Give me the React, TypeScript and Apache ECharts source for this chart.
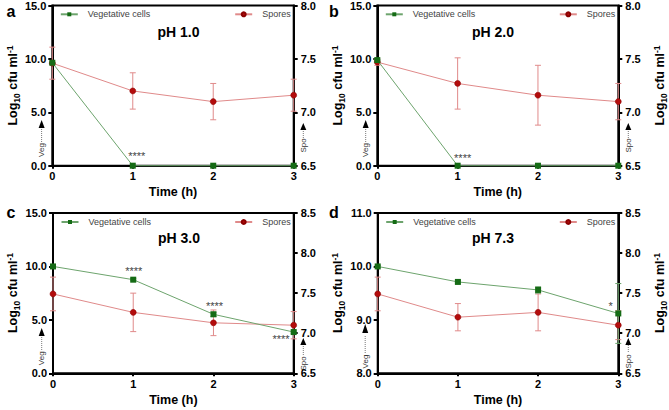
import React, { useEffect, useRef } from 'react';
import * as echarts from 'echarts';

// ---------- data ----------
const hours = [0, 1, 2, 3];
const titles = ['pH 1.0', 'pH 2.0', 'pH 3.0', 'pH 7.3'];
const letters = ['a', 'b', 'c', 'd'];

const vegA = [9.64, 0, 0, 0];
const vegAErr = [0.05, 0, 0, 0];
const spoA = [7.46, 7.2, 7.1, 7.16];
const spoAErr = [0.15, 0.17, 0.17, 0.15];

const vegB = [9.89, 0, 0, 0];
const vegBErr = [0.05, 0, 0, 0];
const spoB = [7.47, 7.27, 7.16, 7.1];
const spoBErr = [0.03, 0.24, 0.28, 0.17];

const vegC = [10.0, 8.76, 5.52, 3.86];
const vegCErr = [0.05, 0.1, 0.2, 0.1];
const spoC = [7.49, 7.26, 7.13, 7.1];
const spoCErr = [0.21, 0.24, 0.16, 0.17];

const vegD = [10.0, 9.71, 9.56, 9.12];
const vegDErr = [0.02, 0.02, 0.06, 0.56];
const spoD = [7.49, 7.2, 7.26, 7.1];
const spoDErr = [0.21, 0.17, 0.23, 0.18];

const vegSets = [vegA, vegB, vegC, vegD];
const vegErrSets = [vegAErr, vegBErr, vegCErr, vegDErr];
const spoSets = [spoA, spoB, spoC, spoD];
const spoErrSets = [spoAErr, spoBErr, spoCErr, spoDErr];

const leftMin = [0, 0, 0, 8];
const leftMax = [15, 15, 15, 11];
const leftInterval = [5, 5, 5, 1];
const rightMin = [6.5, 6.5, 6.5, 6.5];
const rightMax = [8, 8, 8.5, 8.5];
const rightInterval = [0.5, 0.5, 0.5, 0.5];

// significance marks: [panel, hour, value on left axis, text]
const sigPanel = [0, 1, 2, 2, 2, 3];
const sigHour = [1, 1, 1, 2, 3, 3];
const sigValue = [0, 0, 8.76, 5.52, 3.86, 9.12];
const sigText = ['****', '****', '****', '****', '****', '*'];

// ---------- layout ----------
const grids = [
  { left: 52.3, top: 5.3, width: 241.4, height: 160.4 },
  { left: 377.3, top: 5.3, width: 241.0, height: 160.4 },
  { left: 53.0, top: 213, width: 240.7, height: 160.3 },
  { left: 377.7, top: 213, width: 240.6, height: 160.3 },
];
const sigDx = [4, 5, 0.5, 1, -12.7, -7.6];
const sigDy = [-10, -8.2, -8.2, -8.1, 6.5, -7.5];
const titlePos = [[178.5, 31.7], [493, 31.7], [179, 238.3], [493, 238.3]];
const letterPos = [[11, 11], [334, 11], [11, 212], [334, 212]];
const vegInd = [
  { x: 41.6, tc: 150, l1: 142, l2: 128, t1: 128, t2: 120 },
  { x: 365.7, tc: 150, l1: 142, l2: 128, t1: 128, t2: 120 },
  { x: 41.7, tc: 358.3, l1: 350, l2: 337, t1: 336, t2: 328 },
  { x: 365.2, tc: 361.5, l1: 353, l2: 335, t1: 333, t2: 324 },
];
const spoInd = [
  { x: 303.3, tc: 145.5, l1: 138, l2: 130, t1: 130, t2: 123 },
  { x: 628.3, tc: 145.5, l1: 138, l2: 130, t1: 130, t2: 123 },
  { x: 303.3, tc: 363.5, l1: 355, l2: 345, t1: 345, t2: 338 },
  { x: 628.3, tc: 361.5, l1: 352, l2: 345, t1: 345, t2: 338 },
];

const FONT = '"Liberation Sans", Arial, Helvetica, sans-serif';
const GREEN = '#156b15';
const GREEN_LINE = '#6da46d';
const RED = '#b30c0c';
const RED_LINE = '#e08a8a';

function errRender(color: string) {
  return (params: any, api: any) => {
    const x = api.value(0);
    const y = api.value(1);
    const e = api.value(2);
    if (!(e > 0)) return null;
    const hi = api.coord([x, y + e]);
    const lo = api.coord([x, y - e]);
    const w = 3;
    const st = { stroke: color, lineWidth: 1 };
    return {
      type: 'group',
      children: [
        { type: 'line', shape: { x1: hi[0], y1: hi[1], x2: lo[0], y2: lo[1] }, style: st },
        { type: 'line', shape: { x1: hi[0] - w, y1: hi[1], x2: hi[0] + w, y2: hi[1] }, style: st },
        { type: 'line', shape: { x1: lo[0] - w, y1: lo[1], x2: lo[0] + w, y2: lo[1] }, style: st },
      ],
    };
  };
}

const axisNameRich = {
  m: { fontSize: 12.5, fontWeight: 'bold', fontFamily: FONT, fill: '#000', lineHeight: 16 },
  s: { fontSize: 8.5, fontWeight: 'bold', fontFamily: FONT, fill: '#000', lineHeight: 9, verticalAlign: 'bottom' },
  p: { fontSize: 8.5, fontWeight: 'bold', fontFamily: FONT, fill: '#000', lineHeight: 9, verticalAlign: 'top' },
};
const axisNameText = '{m|Log}{s|10}{m| cfu ml}{p|-1}';

function axisName(x: number, y: number) {
  return {
    type: 'text',
    x,
    y,
    rotation: Math.PI / 2,
    style: {
      text: axisNameText,
      rich: axisNameRich,
      align: 'center',
      verticalAlign: 'middle',
      textAlign: 'center',
      textVerticalAlign: 'middle',
    },
  };
}

function indicator(ind: any, label: string) {
  return [
    {
      type: 'text',
      x: ind.x,
      y: ind.tc,
      rotation: Math.PI / 2,
      style: {
        text: label,
        font: `8px ${FONT}`,
        fill: '#333',
        align: 'center',
        verticalAlign: 'middle',
        textAlign: 'center',
        textVerticalAlign: 'middle',
      },
    },
    {
      type: 'line',
      shape: { x1: ind.x, y1: ind.l1, x2: ind.x, y2: ind.l2 },
      style: { stroke: '#555', lineWidth: 0.8, lineDash: [1, 1] },
    },
    {
      type: 'polygon',
      shape: { points: [[ind.x - 3, ind.t1], [ind.x + 3, ind.t1], [ind.x, ind.t2]] },
      style: { fill: '#000' },
    },
  ];
}

function buildOption() {
  const xAxis: any[] = [];
  const yAxis: any[] = [];
  const series: any[] = [];
  const legend: any[] = [];
  const graphic: any[] = [];

  grids.forEach((g, i) => {
    xAxis.push({
      gridIndex: i,
      type: 'value',
      min: 0,
      max: 3,
      interval: 1,
      name: 'Time (h)',
      nameLocation: 'middle',
      nameGap: 20,
      nameTextStyle: { fontFamily: FONT, fontWeight: 'bold', fontSize: 12.5, color: '#000' },
      axisLine: { show: true, onZero: false, lineStyle: { color: '#000', width: 2 } },
      axisTick: { show: true, length: 3, lineStyle: { color: '#000', width: 2 } },
      axisLabel: { fontFamily: FONT, fontWeight: 'bold', fontSize: 11, color: '#000', margin: 5 },
      splitLine: { show: false },
    });
    yAxis.push({
      gridIndex: i,
      type: 'value',
      position: 'left',
      min: leftMin[i],
      max: leftMax[i],
      interval: leftInterval[i],
      axisLine: { show: true, onZero: false, lineStyle: { color: '#000', width: 2 } },
      axisTick: { show: true, length: 4, lineStyle: { color: '#000', width: 2 } },
      axisLabel: {
        fontFamily: FONT,
        fontWeight: 'bold',
        fontSize: 11,
        color: '#000',
        margin: 6,
        formatter: (v: number) => v.toFixed(1),
      },
      splitLine: { show: false },
    });
    yAxis.push({
      gridIndex: i,
      type: 'value',
      position: 'right',
      min: rightMin[i],
      max: rightMax[i],
      interval: rightInterval[i],
      axisLine: { show: true, onZero: false, lineStyle: { color: '#000', width: 2 } },
      axisTick: { show: true, length: 4, lineStyle: { color: '#000', width: 2 } },
      axisLabel: {
        fontFamily: FONT,
        fontWeight: 'bold',
        fontSize: 11,
        color: '#000',
        margin: 7,
        formatter: (v: number) => v.toFixed(1),
      },
      splitLine: { show: false },
    });

    const veg = vegSets[i];
    const spo = spoSets[i];
    series.push({
      type: 'custom',
      xAxisIndex: i,
      yAxisIndex: 2 * i + 1,
      renderItem: errRender(RED_LINE),
      data: hours.map((h, j) => [h, spo[j], spoErrSets[i][j]]),
      encode: { x: 0, y: 1 },
      z: 1,
      silent: true,
    });
    series.push({
      type: 'custom',
      xAxisIndex: i,
      yAxisIndex: 2 * i,
      renderItem: errRender(GREEN_LINE),
      data: hours.map((h, j) => [h, veg[j], vegErrSets[i][j]]),
      encode: { x: 0, y: 1 },
      z: 1,
      silent: true,
    });
    series.push({
      name: 'Spores',
      type: 'line',
      xAxisIndex: i,
      yAxisIndex: 2 * i + 1,
      data: hours.map((h, j) => [h, spo[j]]),
      symbol: 'circle',
      symbolSize: 6,
      clip: false,
      itemStyle: { color: RED, borderColor: '#8a0000', borderWidth: 0.5 },
      lineStyle: { color: RED_LINE, width: 1 },
      z: 2,
    });
    series.push({
      name: 'Vegetative cells',
      type: 'line',
      xAxisIndex: i,
      yAxisIndex: 2 * i,
      data: hours.map((h, j) => [h, veg[j]]),
      symbol: 'rect',
      symbolSize: 6,
      clip: false,
      itemStyle: { color: GREEN },
      lineStyle: { color: GREEN_LINE, width: 1 },
      z: 3,
    });

    legend.push({
      left: g.left + 7.5,
      top: g.top + 4.5,
      padding: 0,
      itemWidth: 17,
      itemHeight: 5,
      data: ['Vegetative cells'],
      textStyle: { fontFamily: FONT, fontSize: 9, color: '#444', padding: [0, 0, 0, 5] },
    });
    legend.push({
      left: g.left + g.width - 59.5,
      top: g.top + 4.5,
      padding: 0,
      itemWidth: 17,
      itemHeight: 5,
      data: ['Spores'],
      textStyle: { fontFamily: FONT, fontSize: 9, color: '#444', padding: [0, 0, 0, 5] },
    });

    graphic.push({
      type: 'text',
      x: titlePos[i][0],
      y: titlePos[i][1],
      style: {
        text: titles[i],
        font: `bold 14px ${FONT}`,
        fill: '#000',
        align: 'center',
        verticalAlign: 'middle',
        textAlign: 'center',
        textVerticalAlign: 'middle',
      },
    });
    graphic.push({
      type: 'text',
      x: letterPos[i][0],
      y: letterPos[i][1],
      style: {
        text: letters[i],
        font: `bold 16px ${FONT}`,
        fill: '#000',
        align: 'center',
        verticalAlign: 'middle',
        textAlign: 'center',
        textVerticalAlign: 'middle',
      },
    });
    graphic.push(...indicator(vegInd[i], 'Veg'));
    graphic.push(...indicator(spoInd[i], 'Spo'));
  });

  // left axis names
  graphic.push(axisName(13, 85.5));
  graphic.push(axisName(338, 85.5));
  graphic.push(axisName(13, 293));
  graphic.push(axisName(338, 293));
  // right axis names (visible on right-hand panels)
  graphic.push(axisName(660, 85.5));
  graphic.push(axisName(660, 293));

  // significance marks
  grids.forEach((g, i) => {
    const idx = sigPanel.map((p, k) => (p === i ? k : -1)).filter((k) => k >= 0);
    if (!idx.length) return;
    series.push({
      type: 'custom',
      xAxisIndex: i,
      yAxisIndex: 2 * i,
      z: 5,
      silent: true,
      data: idx.map((k) => [sigHour[k], sigValue[k], k]),
      encode: { x: 0, y: 1 },
      renderItem: (params: any, api: any) => {
        const k = api.value(2);
        const pt = api.coord([api.value(0), api.value(1)]);
        return {
          type: 'text',
          x: pt[0] + sigDx[k],
          y: pt[1] + sigDy[k],
          style: {
            text: sigText[k],
            font: `11px ${FONT}`,
            fill: '#444',
            align: 'center',
            verticalAlign: 'middle',
            textAlign: 'center',
            textVerticalAlign: 'middle',
          },
        };
      },
    });
  });

  return {
    animation: false,
    backgroundColor: '#fff',
    grid: grids.map((g) => ({
      ...g,
      show: true,
      borderColor: '#000',
      borderWidth: 2,
      backgroundColor: 'transparent',
      containLabel: false,
    })),
    xAxis,
    yAxis,
    legend,
    series,
    graphic,
  };
}

export default function App() {
  const ref = useRef<HTMLDivElement>(null);
  useEffect(() => {
    if (!ref.current) return;
    const chart = echarts.init(ref.current, undefined, { renderer: 'svg' });
    chart.setOption(buildOption() as any);
    return () => chart.dispose();
  }, []);
  return (
    <div
      ref={ref}
      style={{ position: 'fixed', left: 0, top: 0, width: 669, height: 410, background: '#fff' }}
    />
  );
}
